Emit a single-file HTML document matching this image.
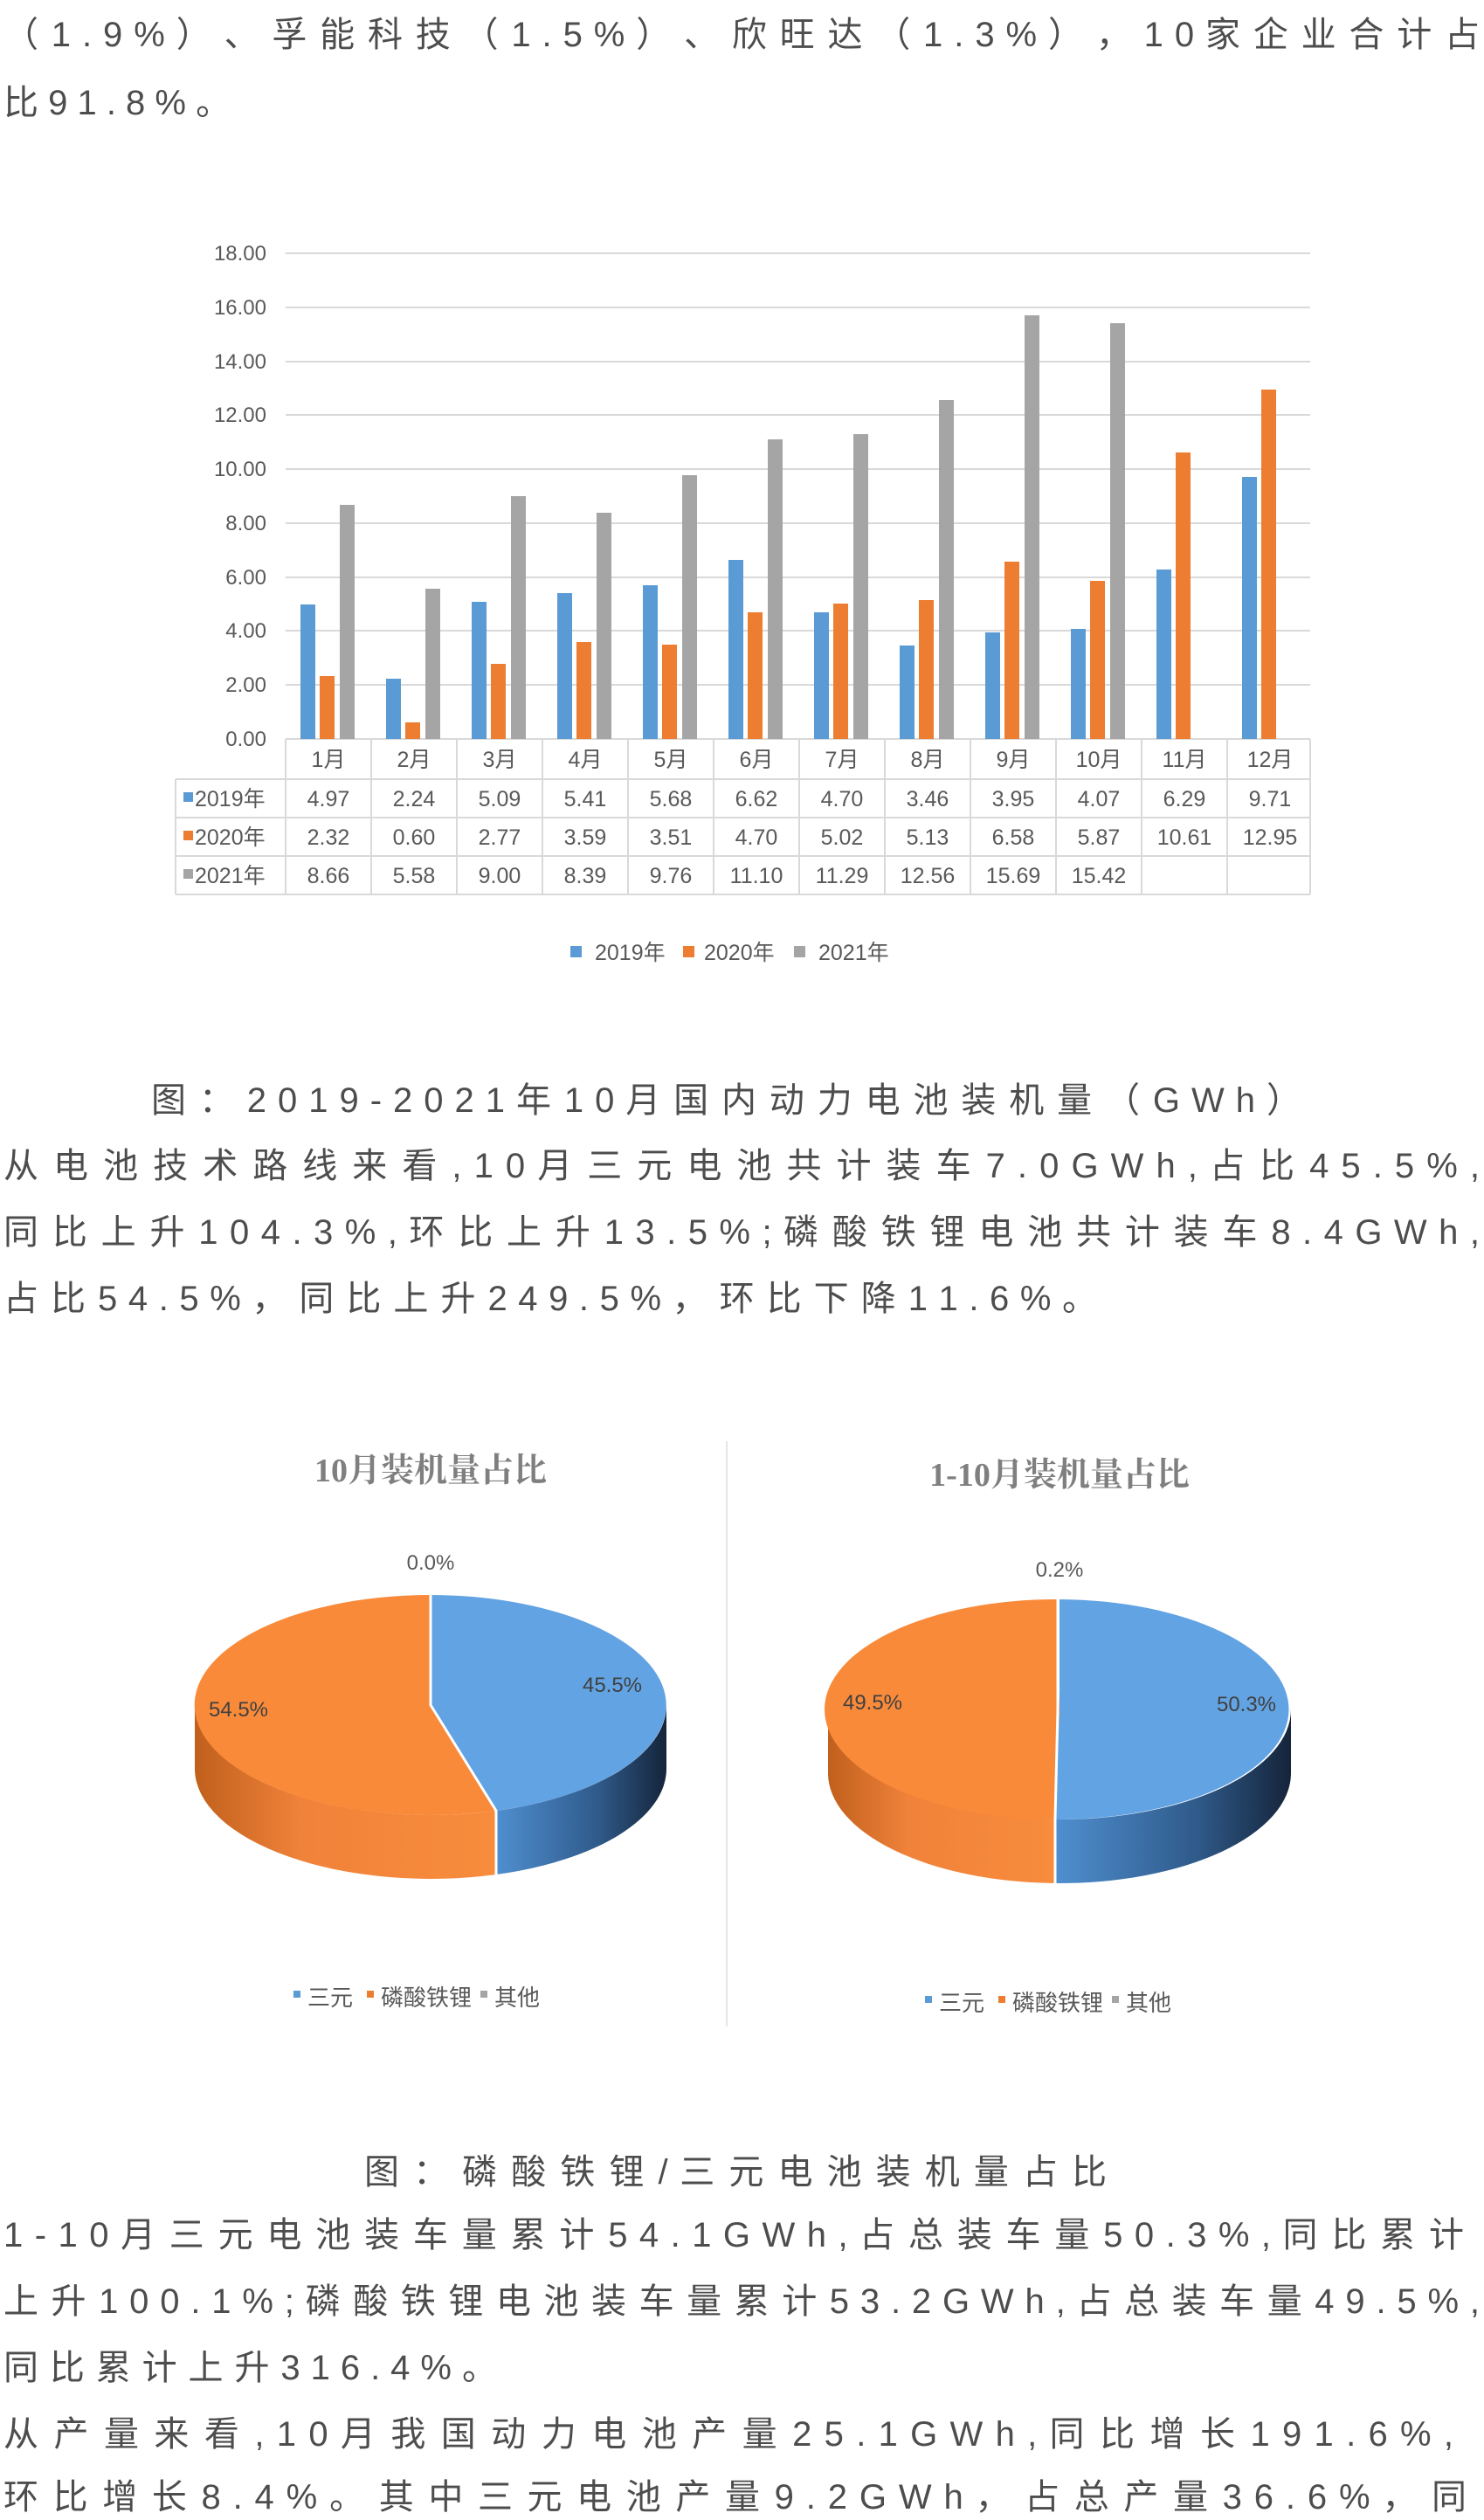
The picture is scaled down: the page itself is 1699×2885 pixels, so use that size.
<!DOCTYPE html>
<html><head><meta charset="utf-8">
<style>
body{margin:0;background:#fff;}
#p{position:relative;width:1699px;height:2885px;overflow:hidden;background:#fff;}
.l{position:absolute;left:4px;height:76px;line-height:76px;font-family:"Liberation Sans","Noto Sans CJK SC",sans-serif;font-size:40px;color:#4d4d4d;text-align:justify;text-align-last:justify;white-space:nowrap;}
svg{position:absolute;left:0;top:0;}
</style></head><body><div id="p">
<svg width="1699" height="2885" font-family="Liberation Sans, Noto Sans CJK SC, sans-serif">
<!-- bar chart -->
<g stroke="#d9d9d9" stroke-width="2">
<line x1="327" y1="290" x2="1500" y2="290"/><line x1="327" y1="352" x2="1500" y2="352"/><line x1="327" y1="414" x2="1500" y2="414"/><line x1="327" y1="475" x2="1500" y2="475"/><line x1="327" y1="537" x2="1500" y2="537"/><line x1="327" y1="599" x2="1500" y2="599"/><line x1="327" y1="661" x2="1500" y2="661"/><line x1="327" y1="722" x2="1500" y2="722"/><line x1="327" y1="784" x2="1500" y2="784"/><line x1="327" y1="846" x2="1500" y2="846"/>
</g>
<g font-size="24" fill="#595959" text-anchor="end">
<text x="305" y="298">18.00</text><text x="305" y="360">16.00</text><text x="305" y="422">14.00</text><text x="305" y="483">12.00</text><text x="305" y="545">10.00</text><text x="305" y="607">8.00</text><text x="305" y="669">6.00</text><text x="305" y="730">4.00</text><text x="305" y="792">2.00</text><text x="305" y="854">0.00</text>
</g>
<g fill="#5b9bd5">
<rect x="344" y="692" width="17" height="154"/><rect x="442" y="777" width="17" height="69"/><rect x="540" y="689" width="17" height="157"/><rect x="638" y="679" width="17" height="167"/><rect x="736" y="670" width="17" height="176"/><rect x="834" y="641" width="17" height="205"/><rect x="932" y="701" width="17" height="145"/><rect x="1030" y="739" width="17" height="107"/><rect x="1128" y="724" width="17" height="122"/><rect x="1226" y="720" width="17" height="126"/><rect x="1324" y="652" width="17" height="194"/><rect x="1422" y="546" width="17" height="300"/>
</g>
<g fill="#ed7d31">
<rect x="366" y="774" width="17" height="72"/><rect x="464" y="827" width="17" height="19"/><rect x="562" y="760" width="17" height="86"/><rect x="660" y="735" width="17" height="111"/><rect x="758" y="738" width="17" height="108"/><rect x="856" y="701" width="17" height="145"/><rect x="954" y="691" width="17" height="155"/><rect x="1052" y="687" width="17" height="159"/><rect x="1150" y="643" width="17" height="203"/><rect x="1248" y="665" width="17" height="181"/><rect x="1346" y="518" width="17" height="328"/><rect x="1444" y="446" width="17" height="400"/>
</g>
<g fill="#a5a5a5">
<rect x="389" y="578" width="17" height="268"/><rect x="487" y="674" width="17" height="172"/><rect x="585" y="568" width="17" height="278"/><rect x="683" y="587" width="17" height="259"/><rect x="781" y="544" width="17" height="302"/><rect x="879" y="503" width="17" height="343"/><rect x="977" y="497" width="17" height="349"/><rect x="1075" y="458" width="17" height="388"/><rect x="1173" y="361" width="17" height="485"/><rect x="1271" y="370" width="17" height="476"/>
</g>
<g stroke="#d9d9d9" stroke-width="2">
<line x1="327" y1="846" x2="327" y2="1024"/><line x1="425" y1="846" x2="425" y2="1024"/><line x1="523" y1="846" x2="523" y2="1024"/><line x1="621" y1="846" x2="621" y2="1024"/><line x1="719" y1="846" x2="719" y2="1024"/><line x1="817" y1="846" x2="817" y2="1024"/><line x1="915" y1="846" x2="915" y2="1024"/><line x1="1013" y1="846" x2="1013" y2="1024"/><line x1="1111" y1="846" x2="1111" y2="1024"/><line x1="1209" y1="846" x2="1209" y2="1024"/><line x1="1307" y1="846" x2="1307" y2="1024"/><line x1="1405" y1="846" x2="1405" y2="1024"/><line x1="1500" y1="846" x2="1500" y2="1024"/>
<line x1="201" y1="892" x2="201" y2="1024"/>
<line x1="201" y1="892" x2="1500" y2="892"/><line x1="201" y1="936" x2="1500" y2="936"/><line x1="201" y1="980" x2="1500" y2="980"/><line x1="201" y1="1024" x2="1500" y2="1024"/>
</g>
<g font-size="25" fill="#595959" text-anchor="middle">
<text x="376" y="878">1月</text><text x="474" y="878">2月</text><text x="572" y="878">3月</text><text x="670" y="878">4月</text><text x="768" y="878">5月</text><text x="866" y="878">6月</text><text x="964" y="878">7月</text><text x="1062" y="878">8月</text><text x="1160" y="878">9月</text><text x="1258" y="878">10月</text><text x="1356" y="878">11月</text><text x="1454" y="878">12月</text>
<text x="376" y="923">4.97</text><text x="474" y="923">2.24</text><text x="572" y="923">5.09</text><text x="670" y="923">5.41</text><text x="768" y="923">5.68</text><text x="866" y="923">6.62</text><text x="964" y="923">4.70</text><text x="1062" y="923">3.46</text><text x="1160" y="923">3.95</text><text x="1258" y="923">4.07</text><text x="1356" y="923">6.29</text><text x="1454" y="923">9.71</text>
<text x="376" y="967">2.32</text><text x="474" y="967">0.60</text><text x="572" y="967">2.77</text><text x="670" y="967">3.59</text><text x="768" y="967">3.51</text><text x="866" y="967">4.70</text><text x="964" y="967">5.02</text><text x="1062" y="967">5.13</text><text x="1160" y="967">6.58</text><text x="1258" y="967">5.87</text><text x="1356" y="967">10.61</text><text x="1454" y="967">12.95</text>
<text x="376" y="1011">8.66</text><text x="474" y="1011">5.58</text><text x="572" y="1011">9.00</text><text x="670" y="1011">8.39</text><text x="768" y="1011">9.76</text><text x="866" y="1011">11.10</text><text x="964" y="1011">11.29</text><text x="1062" y="1011">12.56</text><text x="1160" y="1011">15.69</text><text x="1258" y="1011">15.42</text>
</g>
<g font-size="25" fill="#595959">
<rect x="210" y="907" width="11" height="11" fill="#5b9bd5"/><text x="223" y="923">2019年</text>
<rect x="210" y="951" width="11" height="11" fill="#ed7d31"/><text x="223" y="967">2020年</text>
<rect x="210" y="995" width="11" height="11" fill="#a5a5a5"/><text x="223" y="1011">2021年</text>
<rect x="653" y="1083" width="13" height="13" fill="#5b9bd5"/><text x="681" y="1099">2019年</text>
<rect x="782" y="1083" width="13" height="13" fill="#ed7d31"/><text x="806" y="1099">2020年</text>
<rect x="909" y="1083" width="13" height="13" fill="#a5a5a5"/><text x="937" y="1099">2021年</text>
</g>
<!-- pies -->
<defs>
<linearGradient id="og" x1="0" x2="1"><stop offset="0" stop-color="#c0601c"/><stop offset="0.35" stop-color="#f0823a"/><stop offset="1" stop-color="#f88c3c"/></linearGradient>
<linearGradient id="bg" x1="0" x2="1"><stop offset="0" stop-color="#4f8fd0"/><stop offset="0.6" stop-color="#2f5a8a"/><stop offset="1" stop-color="#15243a"/></linearGradient>
</defs>
<line x1="832" y1="1650" x2="832" y2="2320" stroke="#e6e6e6" stroke-width="2"/>
<g font-size="38" font-weight="bold" fill="#7f7f7f" text-anchor="middle" font-family="Liberation Serif, Noto Serif CJK SC, serif">
<text x="493" y="1696">10月装机量占比</text><text x="1213" y="1701">1-10月装机量占比</text>
</g>
<!-- left pie cx493 cy1952 rx270 ry126 d73 -->
<path d="M763 1952 A270 126 0 0 1 568 2073 L568 2146 A270 126 0 0 0 763 2025 Z" fill="url(#bg)"/>
<path d="M568 2073 A270 126 0 0 1 223 1952 L223 2025 A270 126 0 0 0 568 2146 Z" fill="url(#og)"/>
<path d="M493 1952 L493 1826 A270 126 0 0 1 568 2073 Z" fill="#62a3e3"/>
<path d="M493 1952 L568 2073 A270 126 0 1 1 493 1826 Z" fill="#f98a3a"/>
<path d="M493 1826 L493 1952 L568 2073 L568 2146" stroke="#fff" stroke-width="3" fill="none"/>
<!-- right pie cx1213 cy1957 rx265 ry126 -->
<path d="M1478 1957 A265 126 0 0 1 1208 2083 L1208 2156 A265 126 0 0 0 1478 2030 Z" fill="url(#bg)"/>
<path d="M1208 2083 A265 126 0 0 1 948 1957 L948 2030 A265 126 0 0 0 1208 2156 Z" fill="url(#og)"/>
<path d="M1213 1957 L1213 1831 A265 126 0 1 1 1208 2083 Z" fill="#62a3e3"/>
<path d="M1213 1957 L1208 2083 A265 126 0 0 1 1210 1831 Z" fill="#f98a3a"/>
<path d="M1211 1831 L1211 1957 L1208 2083 L1208 2156" stroke="#fff" stroke-width="3" fill="none"/>
<g font-size="24" fill="#404040" text-anchor="middle">
<text x="493" y="1797" fill="#595959">0.0%</text><text x="701" y="1937">45.5%</text><text x="273" y="1965">54.5%</text>
<text x="1213" y="1805" fill="#595959">0.2%</text><text x="1427" y="1959">50.3%</text><text x="999" y="1957">49.5%</text>
</g>
<g font-size="26" fill="#595959">
<rect x="336" y="2279" width="8" height="8" fill="#5b9bd5"/><text x="352" y="2296">三元</text>
<rect x="420" y="2279" width="8" height="8" fill="#ed7d31"/><text x="436" y="2296">磷酸铁锂</text>
<rect x="550" y="2279" width="8" height="8" fill="#a5a5a5"/><text x="566" y="2296">其他</text>
<rect x="1059" y="2285" width="8" height="8" fill="#5b9bd5"/><text x="1075" y="2302">三元</text>
<rect x="1143" y="2285" width="8" height="8" fill="#ed7d31"/><text x="1159" y="2302">磷酸铁锂</text>
<rect x="1273" y="2285" width="8" height="8" fill="#a5a5a5"/><text x="1289" y="2302">其他</text>
</g>
</svg>
<div class="l" style="top:2px;width:1690px">（ 1 . 9 % ） 、 孚 能 科 技 （ 1 . 5 % ） 、 欣 旺 达 （ 1 . 3 % ） ， 1 0 家 企 业 合 计 占</div>
<div class="l" style="top:80px;width:258px">比 9 1 . 8 % 。</div>
<div class="l" style="top:1222px;left:173px;width:1317px">图 ： 2 0 1 9 - 2 0 2 1 年 1 0 月 国 内 动 力 电 池 装 机 量 （ G W h ）</div>
<div class="l" style="top:1297px;width:1690px">从 电 池 技 术 路 线 来 看 , 1 0 月 三 元 电 池 共 计 装 车 7 . 0 G W h , 占 比 4 5 . 5 % ,</div>
<div class="l" style="top:1373px;width:1690px">同 比 上 升 1 0 4 . 3 % , 环 比 上 升 1 3 . 5 % ; 磷 酸 铁 锂 电 池 共 计 装 车 8 . 4 G W h ,</div>
<div class="l" style="top:1449px;width:1252px">占 比 5 4 . 5 % ， 同 比 上 升 2 4 9 . 5 % ， 环 比 下 降 1 1 . 6 % 。</div>
<div class="l" style="top:2449px;left:417px;width:850px">图 ： 磷 酸 铁 锂 / 三 元 电 池 装 机 量 占 比</div>
<div class="l" style="top:2521px;width:1672px">1 - 1 0 月 三 元 电 池 装 车 量 累 计 5 4 . 1 G W h , 占 总 装 车 量 5 0 . 3 % , 同 比 累 计</div>
<div class="l" style="top:2597px;width:1690px">上 升 1 0 0 . 1 % ; 磷 酸 铁 锂 电 池 装 车 量 累 计 5 3 . 2 G W h , 占 总 装 车 量 4 9 . 5 % ,</div>
<div class="l" style="top:2673px;width:565px">同 比 累 计 上 升 3 1 6 . 4 % 。</div>
<div class="l" style="top:2749px;width:1660px">从 产 量 来 看 , 1 0 月 我 国 动 力 电 池 产 量 2 5 . 1 G W h , 同 比 增 长 1 9 1 . 6 % ,</div>
<div class="l" style="top:2821px;width:1675px">环 比 增 长 8 . 4 % 。 其 中 三 元 电 池 产 量 9 . 2 G W h ， 占 总 产 量 3 6 . 6 % ， 同</div>
</div></body></html>
